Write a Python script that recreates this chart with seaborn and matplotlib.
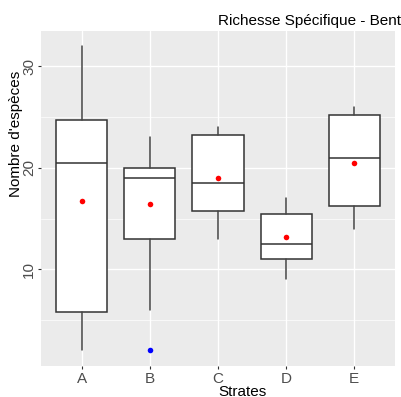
import matplotlib
matplotlib.use("Agg")
import matplotlib.pyplot as plt
from matplotlib.ticker import MultipleLocator
import seaborn as sns

# Summary statistics per stratum
strates = ["A", "B", "C", "D", "E"]
whisker_low = [2.0, 6.0, 13.0, 9.0, 14.0]
q1 = [5.8, 13.0, 15.8, 11.0, 16.25]
median = [20.5, 19.0, 18.5, 12.5, 21.0]
q3 = [24.75, 20.0, 23.25, 15.5, 25.25]
whisker_high = [32.0, 23.0, 24.0, 17.0, 26.0]
mean = [16.7, 16.4, 19.0, 13.2, 20.5]
outlier_strate = ["B"]
outlier_value = [2.0]

sns.set_theme(style="darkgrid", rc={
    "axes.facecolor": "#EBEBEB",
    "grid.color": "white",
    "axes.edgecolor": "#EBEBEB",
})
plt.rcParams["font.family"] = ["Liberation Sans", "DejaVu Sans"]

W, H = 401, 397
fig = plt.figure(figsize=(W / 100, H / 100), dpi=100)
fig.patch.set_facecolor("white")
left, right, top, bottom = 41, 395, 31, 365.7
ax = fig.add_axes([left / W, 1 - bottom / H, (right - left) / W, (bottom - top) / H])

edge = "#333333"
stats = []
for i, s in enumerate(strates):
    stats.append(dict(label=s, whislo=whisker_low[i], q1=q1[i], med=median[i],
                      q3=q3[i], whishi=whisker_high[i], fliers=[]))
ax.bxp(stats, positions=range(len(strates)), widths=0.75, patch_artist=True,
       showcaps=False, showfliers=False, manage_ticks=False,
       boxprops=dict(facecolor="white", edgecolor=edge, linewidth=1.1),
       medianprops=dict(color=edge, linewidth=1.1),
       whiskerprops=dict(color="#444444", linewidth=1.1))

sns.stripplot(x=strates, y=mean, order=strates, jitter=False, color="red",
              size=4, linewidth=0, ax=ax, zorder=4)
sns.stripplot(x=outlier_strate, y=outlier_value, order=strates, jitter=False,
              color="blue", size=4, linewidth=0, ax=ax, zorder=4)

ax.set_xlim(-0.6, 4.6)
ax.set_ylim(0.5, 33.5)
ax.set_xticks(range(len(strates)))
ax.set_xticklabels(strates)
ax.yaxis.set_major_locator(MultipleLocator(10))
ax.yaxis.set_minor_locator(MultipleLocator(5))
ax.set_axisbelow(True)
ax.grid(True, which="major", color="white", linewidth=1.0)
ax.grid(True, which="minor", axis="y", color="white", linewidth=0.5)
ax.xaxis.grid(True, which="major", color="white", linewidth=1.0)
for sp in ax.spines.values():
    sp.set_visible(False)

ax.tick_params(axis="both", which="major", length=2.5, width=0.8, color=edge,
               labelcolor="#4D4D4D", labelsize=11, left=True, bottom=True)
ax.tick_params(axis="both", which="minor", length=0)
ax.tick_params(axis="x", pad=2)
ax.tick_params(axis="y", pad=1)
for lab in ax.get_yticklabels():
    lab.set_rotation(90)
    lab.set_va("center")
ax.set_xlabel("")
ax.set_ylabel("")

fig.text(16.5 / W, 1 - 134 / H, "Nombre d'espèces", rotation=90, ha="center",
         va="center", fontsize=11, color="black")
fig.text(242 / W, 1 - 395.5 / H, "Strates", ha="center", va="baseline",
         fontsize=11, color="black")
fig.text(218.5 / W, 1 - 25 / H, "Richesse Spécifique - Bent", ha="left",
         va="baseline", fontsize=11, color="black")

fig.savefig("out.png", dpi=100)
